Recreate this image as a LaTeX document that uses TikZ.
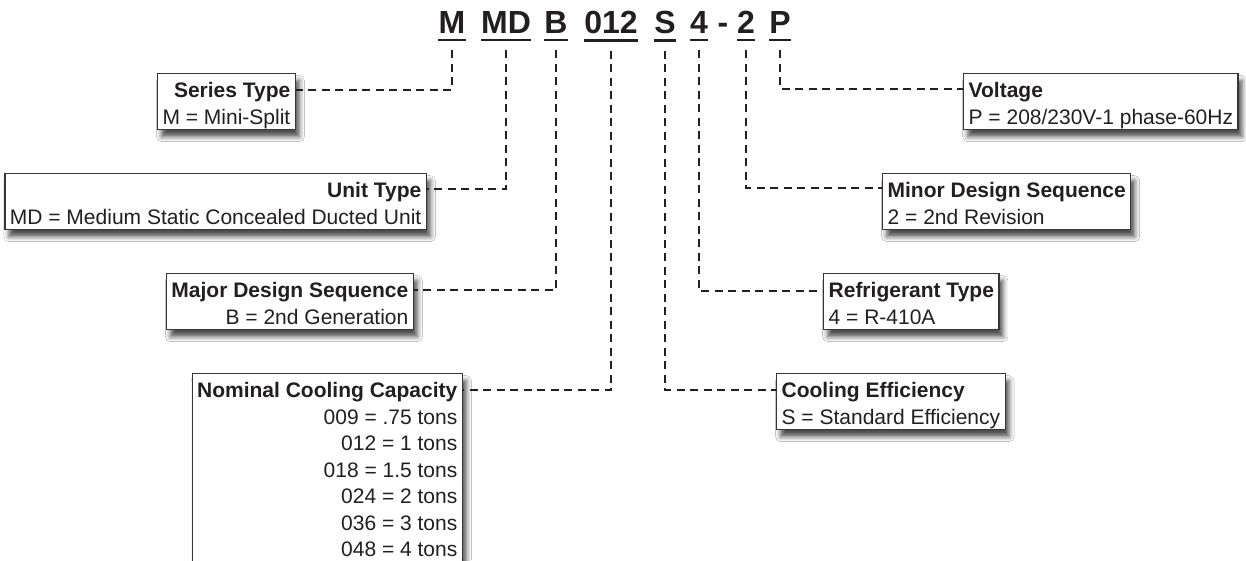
\documentclass[tikz,border=0pt]{standalone}
\usepackage{fontspec}
\setmainfont{Liberation Sans}
\usetikzlibrary{shadows.blur}
\definecolor{ink}{HTML}{231F20}
\newcommand{\hd}[1]{\rule{0pt}{23pt}\textbf{#1}}

\begin{document}
\begin{tikzpicture}[x=1pt,y=-1pt,%
% common options for the code letters:
code/.style = {font=\fontsize{32}{32}\selectfont\bfseries, text=ink,
            anchor=base, inner sep=0},
% common options for the boxes:
box/.style = {draw=ink!90, fill=white, line width=1.3pt, text=ink,
            font=\fontsize{21}{26.5}\selectfont, inner xsep=5pt, inner ysep=1pt,
            execute at end node=\rule[-4.5pt]{0pt}{5pt},
            blur shadow={shadow xshift=4pt, shadow yshift=-7pt,
            shadow blur radius=5pt, shadow opacity=70}},
lbox/.style = {box, align=right, anchor=north east},
rbox/.style = {box, align=left, anchor=north west},
% common options for the dashed leaders:
lead/.style = {draw=ink, line width=2.6pt, dash pattern=on 8pt off 5.5pt},
uline/.style = {draw=ink, line width=2.4pt}]
\path[use as bounding box, fill=white] (0,0) rectangle (1246,560);
\node[code] (cM) at (452,33) {M};
\node[code] (cMD) at (506,33) {MD};
\node[code] (cB) at (556,33) {B};
\node[code] (cCap) at (611,33) {012};
\node[code] (cS) at (665,33) {S};
\node[code] (c4) at (699,33) {4};
\node[code] (cDash) at (723,33) {-};
\node[code] (c2) at (746,33) {2};
\node[code] (cP) at (780,33) {P};
\draw[uline] ([yshift=-7pt]cM.south west) -- ([yshift=-7pt]cM.south east);
\draw[uline] ([yshift=-7pt]cMD.south west) -- ([yshift=-7pt]cMD.south east);
\draw[uline] ([yshift=-7pt]cB.south west) -- ([yshift=-7pt]cB.south east);
\draw[uline] ([yshift=-7pt]cCap.south west) -- ([yshift=-7pt]cCap.south east);
\draw[uline] ([yshift=-7pt]cS.south west) -- ([yshift=-7pt]cS.south east);
\draw[uline] ([yshift=-7pt]c4.south west) -- ([yshift=-7pt]c4.south east);
\draw[uline] ([yshift=-7pt]c2.south west) -- ([yshift=-7pt]c2.south east);
\draw[uline] ([yshift=-7pt]cP.south west) -- ([yshift=-7pt]cP.south east);
\node[lbox] (series) at (296,73) {\hd{Series Type}\\M = Mini-Split};
\node[lbox] (unit) at (427,173) {\hd{Unit Type}\\MD = Medium Static Concealed Ducted Unit};
\node[lbox] (major) at (414,273) {\hd{Major Design Sequence}\\B = 2nd Generation};
\node[lbox] (capacity) at (463,373) {\hd{Nominal Cooling Capacity}\\009 = .75 tons\\012 = 1 tons\\018 = 1.5 tons\\024 = 2 tons\\036 = 3 tons\\048 = 4 tons};
\node[rbox] (volt) at (963,73) {\hd{Voltage}\\P = 208/230V-1 phase-60Hz};
\node[rbox] (minor) at (882,173) {\hd{Minor Design Sequence}\\2 = 2nd Revision};
\node[rbox] (refrig) at (823,273) {\hd{Refrigerant Type}\\4 = R-410A};
\node[rbox] (eff) at (776,373) {\hd{Cooling Efficiency}\\S = Standard Efficiency};
\draw[lead] ([yshift=-17pt]cM.south) |- ([yshift=-17pt]series.north east);
\draw[lead] ([yshift=-17pt]cMD.south) |- ([yshift=-16pt]unit.north east);
\draw[lead] ([yshift=-17pt]cB.south) |- ([yshift=-17pt]major.north east);
\draw[lead] ([yshift=-17pt]cCap.south) |- ([yshift=-17pt]capacity.north east);
\draw[lead] ([yshift=-17pt]cS.south) |- ([yshift=-17pt]eff.north west);
\draw[lead] ([yshift=-17pt]c4.south) |- ([yshift=-18pt]refrig.north west);
\draw[lead] ([yshift=-17pt]c2.south) |- ([yshift=-15pt]minor.north west);
\draw[lead] ([yshift=-17pt]cP.south) |- ([yshift=-16pt]volt.north west);
\end{tikzpicture}
\end{document}
